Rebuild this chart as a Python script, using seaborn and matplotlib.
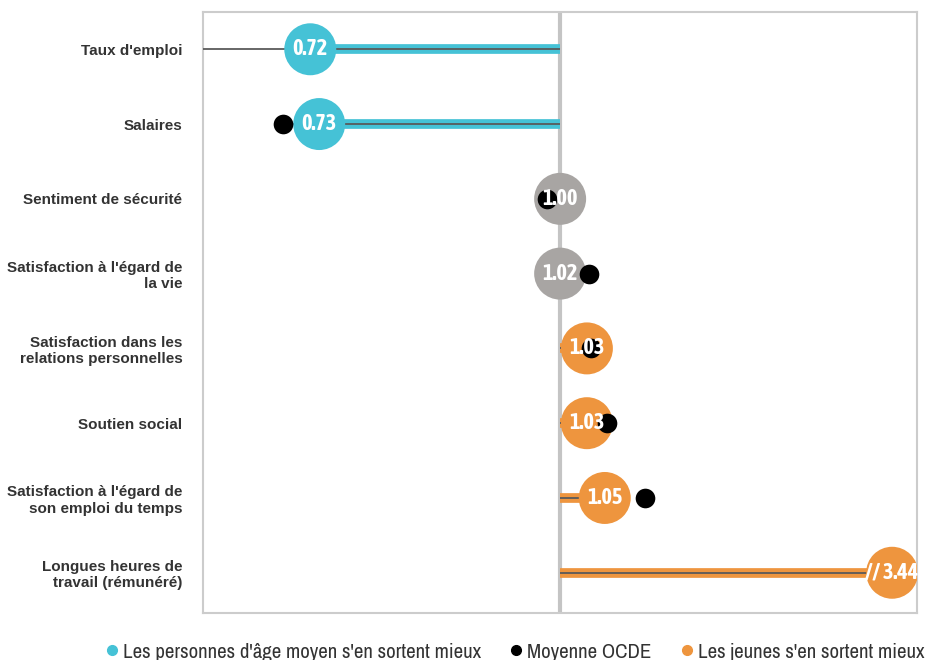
import numpy as np
import pandas as pd
import matplotlib
matplotlib.use('Agg')
import matplotlib.pyplot as plt
from matplotlib.lines import Line2D
from matplotlib import font_manager as fm
import seaborn as sns

###############################################################################
# Data
###############################################################################
categories = [
    "Taux d'emploi",
    "Salaires",
    "Sentiment de sécurité",
    "Satisfaction à l'égard de\nla vie",
    "Satisfaction dans les\nrelations personnelles",
    "Soutien social",
    "Satisfaction à l'égard de\nson emploi du temps",
    "Longues heures de\ntravail (rémunéré)",
]
values = [0.72, 0.73, 1.00, 1.02, 1.03, 1.03, 1.05, 3.44]
oecd = [0.50, 0.69, 0.985, 1.032, 1.035, 1.053, 1.095, np.nan]
groups = ['mid', 'mid', 'eq', 'eq', 'young', 'young', 'young', 'young']
legend_labels = [
    "Les personnes d'âge moyen s'en sortent mieux",
    "Moyenne OCDE",
    "Les jeunes s'en sortent mieux",
]
(XMIN, XMAX, XBREAK) = (0.6, 1.4, 1.372)
###############################################################################
# Style
###############################################################################
pal = {'mid': '#45C2D6', 'eq': '#A8A5A3', 'young': '#EE953E'}
sns.set_theme(style='white')
plt.rcParams['font.family'] = ['Liberation Sans', 'DejaVu Sans']
# Narrow family for bubble labels / legend (prefer one with a bold face)
fonts = fm.fontManager.ttflist
narrow = sorted({f.name for f in fonts if 'Narrow' in f.name or 'Condensed' in f.name})
narrowBold = sorted({
    f.name for f in fonts
    if f.name in narrow and (f.weight == 'bold' or (isinstance(f.weight, int) and f.weight >= 600))
})
NARROW = narrow[:1] + ['Liberation Sans', 'DejaVu Sans']
NARROWB = (narrowBold[:1] or narrow[:1]) + ['Liberation Sans', 'DejaVu Sans']

df = pd.DataFrame({'cat': categories, 'val': values, 'oecd': oecd, 'grp': groups})
df['pos'] = np.arange(len(df))
# Equal values sit on the reference line, off-scale ones at the axis break
df['xplot'] = np.where(df['grp'] == 'eq', 1.0, np.minimum(df['val'], XBREAK))
df['label'] = [('// ' if v > XMAX else '') + '{:.2f}'.format(v) for v in df['val']]

fig = plt.figure(figsize=(9.32, 6.6), dpi=100)
ax = fig.add_axes([0.218, 0.071, 0.766, 0.911])
###############################################################################
# Bars and lines
###############################################################################
ax.axvline(1.0, color='#C4C4C4', lw=3, zorder=1)
for r in df.itertuples():
    if r.grp == 'eq':
        continue
    ax.hlines(r.pos, 1.0, r.xplot, color=pal[r.grp], lw=7, zorder=2)
    if r.grp == 'mid':
        lo = min(r.val, r.oecd)
    else:
        lo = r.xplot
    ax.hlines(r.pos, 1.0, lo, color='#5A5A5A', lw=1.3, zorder=3)
###############################################################################
# Bubbles and OECD dots
###############################################################################
sns.scatterplot(
    data=df, x='xplot', y='pos', hue='grp', palette=pal, s=1400,
    linewidth=0, legend=False, ax=ax, zorder=4
)
sns.scatterplot(
    data=df.dropna(subset=['oecd']), x='oecd', y='pos', color='black', s=200,
    linewidth=0, legend=False, ax=ax, zorder=5
)
for r in df.itertuples():
    ax.text(
        r.xplot, r.pos, r.label, ha='center', va='center', color='white',
        fontsize=16, fontweight='bold', family=NARROWB, stretch='condensed',
        zorder=6
    )
###############################################################################
# Axes
###############################################################################
ax.set_xlim(XMIN, XMAX)
ax.set_ylim(len(df) - 0.46, -0.5)
ax.set_xticks([])
ax.set_yticks(df['pos'])
ax.set_yticklabels(df['cat'], fontsize=11, fontweight='bold', color='#333333')
ax.tick_params(axis='y', length=0, pad=15)
ax.set_xlabel('')
ax.set_ylabel('')
for s in ax.spines.values():
    s.set_color('#CCCCCC')
    s.set_linewidth(1.5)
###############################################################################
# Legend
###############################################################################
handles = [
    Line2D([], [], ls='', marker='o', ms=7, color=pal['mid']),
    Line2D([], [], ls='', marker='o', ms=7, color='black'),
    Line2D([], [], ls='', marker='o', ms=7, color=pal['young']),
]
fig.legend(
    handles, legend_labels, loc='center', bbox_to_anchor=(0.5515, 0.012),
    ncol=3, frameon=False, handlelength=0.8, handletextpad=0.12,
    columnspacing=1.3, borderpad=0, borderaxespad=0,
    prop={'family': NARROW, 'size': 15, 'stretch': 'condensed'},
    labelcolor='#333333'
)
plt.savefig('out.png', dpi=100)
plt.close('all')
